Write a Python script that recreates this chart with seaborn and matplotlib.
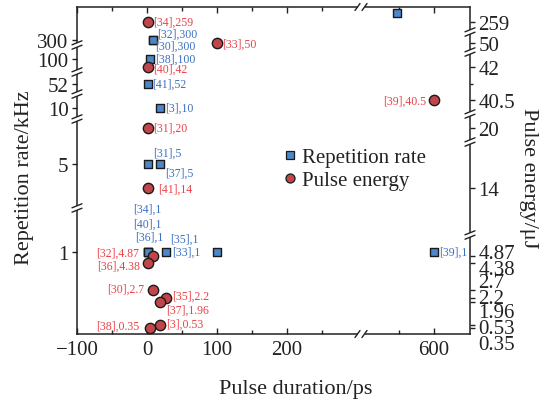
import numpy as np
import matplotlib
matplotlib.use("Agg")
import matplotlib.pyplot as plt
import matplotlib.transforms as mtransforms
from matplotlib.lines import Line2D
import seaborn as sns

sns.set_theme(style="white")
plt.rcParams['font.family'] = ['Liberation Serif', 'DejaVu Serif']
plt.rcParams['axes.unicode_minus'] = True

# ---------------- data ----------------
rate_refs = ["[32]", "[30]", "[38]", "[41]", "[3]", "[31]", "[37]", "[34]", "[40]", "[36]", "[35]", "[33]", "[39]", ""]
rate_duration = [8, 8, 4, 1, 19, 1, 19, 1, 1, 1, 27, 100, 600, 547]
rate_values = [300, 300, 100, 52, 10, 5, 5, 1, 1, 1, 1, 1, 1, 1000]
rate_labels = ["[32],300", "[30],300", "[38],100", "[41],52", "[3],10", "[31],5", "[37],5",
               "[34],1", "[40],1", "[36],1", "[35],1", "[33],1", "[39],1", ""]

energy_duration = [1, 100, 1, 1, 1, 600, 8, 1, 8, 27, 19, 19, 4]
energy_values = [259, 50, 42, 20, 14, 40.5, 4.87, 4.38, 2.7, 2.2, 1.96, 0.53, 0.35]
energy_labels = ["[34],259", "[33],50", "[40],42", "[31],20", "[41],14", "[39],40.5", "[32],4.87",
                 "[36],4.38", "[30],2.7", "[35],2.2", "[37],1.96", "[3],0.53", "[38],0.35"]

x_ticks = [-100, 0, 100, 200, 600]
x_minor = [-50, 50, 150, 250, 550]
left_ticks = [1, 5, 10, 52, 100, 300]
right_ticks = [0.35, 0.53, 1.96, 2.2, 2.7, 4.38, 4.87, 14, 20, 40.5, 42, 50, 259]

# ---------------- layout (pixel geometry of the broken axes) ----------------
W, H = 393.0, 327.0
x_knots = [-100, 300, 500, 650]
x_knot_px = [0, 280, 287, 392]
left_knot_vals = left_ticks + [1000]
left_knot_px = [82, 170, 226, 250, 275, 294, 321]
right_knot_px = [6, 9, 32, 36, 44, 71, 78, 146, 206, 234, 267, 291, 312]
right_label_dy = [-14, -1, -8, 2, 10, -4, 5, 0, 0, 0, 0, 0, 0]   # px, up positive
left_breaks_px = [289, 262, 240, 215, 126]
right_breaks_px = [302, 282, 220, 192, 99]
x_break_px = 284

rate_off = [(4.5, 6, 'left'), (2.5, -6, 'left'), (5, 0, 'left'), (4.5, 0, 'left'), (5, 0, 'left'),
            (5, 11, 'left'), (5, -9, 'left'), (0, 43, 'center'), (0, 28, 'center'), (2, 15, 'center'),
            (4, 13, 'left'), (-17, 0, 'right'), (5, 0, 'left'), (0, 0, 'left')]
energy_off = [(5, 0, 'left'), (5, -1, 'left'), (5, -2, 'left'), (5, 0, 'left'), (10, -1, 'left'),
              (-8, -1, 'right'), (-13, 3, 'right'), (-8, -3, 'right'), (-8, 1, 'right'),
              (6, 2, 'left'), (6, -8, 'left'), (6, 1, 'left'), (-10, 2, 'right')]

SQ = "#4b87c9"
CI = "#c1454b"
EDGE = "#1a1a1a"
RED_T = "#ea4048"
BLUE_T = "#3b6fbf"
INK = "#222222"


def piecewise(vals, pix):
    vals = np.asarray(vals, float)
    pix = np.asarray(pix, float)

    def _make(a, b):
        s0 = (b[1] - b[0]) / (a[1] - a[0])
        s1 = (b[-1] - b[-2]) / (a[-1] - a[-2])

        def f(v):
            v = np.asarray(v, float)
            out = np.interp(v, a, b)
            out = np.where(v < a[0], b[0] + (v - a[0]) * s0, out)
            out = np.where(v > a[-1], b[-1] + (v - a[-1]) * s1, out)
            return out
        return f
    return _make(vals, pix), _make(pix, vals)


def fmt(t):
    s = f"{t:g}"
    return s.replace("-", "\u2212")


fx, ix = piecewise(x_knots, x_knot_px)
fl, il = piecewise(left_knot_vals, left_knot_px)
fr, ir = piecewise(right_ticks, right_knot_px)

fig = plt.figure(figsize=(5.44, 4.02), dpi=100)
ax = fig.add_axes([77 / 544, (402 - 335) / 402, W / 544, H / 402])
ax2 = ax.twinx()

ax.set_xscale('function', functions=(fx, ix))
ax.set_yscale('function', functions=(fl, il))
ax2.set_yscale('function', functions=(fr, ir))

# data
sns.scatterplot(x=rate_duration, y=rate_values, ax=ax, marker='s', s=34, color=SQ,
                edgecolor=EDGE, linewidth=1.0, legend=False, zorder=3, clip_on=False)
sns.scatterplot(x=energy_duration, y=energy_values, ax=ax2, marker='o', s=55, color=CI,
                edgecolor=EDGE, linewidth=1.0, legend=False, zorder=3, clip_on=False)

ax.set_xlim(float(ix(0)), float(ix(W)))
ax.set_ylim(float(il(0)), float(il(H)))
ax2.set_ylim(float(ir(0)), float(ir(H)))

# annotations
for xv, yv, lab, (dx, dy, ha) in zip(rate_duration, rate_values, rate_labels, rate_off):
    if lab:
        ax.annotate(lab, (xv, yv), xytext=(dx, dy), textcoords='offset pixels', ha=ha, va='center',
                    fontsize=8.5, color=BLUE_T, zorder=6)
for xv, yv, lab, (dx, dy, ha) in zip(energy_duration, energy_values, energy_labels, energy_off):
    ax2.annotate(lab, (xv, yv), xytext=(dx, dy), textcoords='offset pixels', ha=ha, va='center',
                 fontsize=8.5, color=RED_T, zorder=6)

# ticks
FS = 15
ax.set_xticks(x_ticks)
ax.set_xticklabels([fmt(t) for t in x_ticks])
ax.set_xticks(x_minor, minor=True)
ax.set_yticks(left_ticks)
ax.set_yticklabels([fmt(t) for t in left_ticks])
ax.yaxis.set_minor_locator(matplotlib.ticker.NullLocator())
ax.tick_params(axis='x', which='both', direction='in', top=True, bottom=True, labelsize=FS,
               colors=INK, width=1.0, pad=4)
ax.tick_params(axis='x', which='major', length=4.5)
ax.tick_params(axis='x', which='minor', length=3)
ax.tick_params(axis='y', which='major', direction='out', left=True, right=False, length=3.5,
               width=1.0, labelsize=FS, colors=INK, pad=2.5)

ax2.set_yticks(right_ticks)
ax2.set_yticklabels([fmt(t) for t in right_ticks])
ax2.set_yticks([41.25], minor=True)
ax2.tick_params(axis='y', which='both', direction='out', right=True, left=False, length=3.5,
                width=1.0, labelsize=FS, colors=INK, pad=2.5)
ax2.tick_params(axis='y', which='minor', length=2.5)

for lab, dy in zip(ax2.yaxis.get_majorticklabels(), right_label_dy):
    lab.set_transform(lab.get_transform() +
                      mtransforms.ScaledTranslation(0, dy / 100.0, fig.dpi_scale_trans))

# spines
for s in ax.spines.values():
    s.set_color(INK)
    s.set_linewidth(1.1)
ax.spines['right'].set_visible(False)
for k in ['left', 'top', 'bottom']:
    ax2.spines[k].set_visible(False)
ax2.spines['right'].set_color(INK)
ax2.spines['right'].set_linewidth(1.1)

# labels
ax.set_xlabel("Pulse duration/ps", fontsize=16, color=INK)
ax.xaxis.set_label_coords(0.557, -0.138)
ax.set_ylabel("Repetition rate/kHz", fontsize=16, color=INK)
ax.yaxis.set_label_coords(-0.11, 0.48)
ax2.set_ylabel("Pulse energy/\u03bcJ", fontsize=16, color=INK, rotation=270, va='bottom')
ax2.yaxis.set_label_coords(1.125, 0.48)


# axis breaks
def ybreak(a, xside, h):
    kw = dict(transform=a.transAxes, clip_on=False, color=INK, lw=1.0, zorder=7)
    a.plot([xside, xside], [(h - 2.2) / H, (h + 2.2) / H], transform=a.transAxes, clip_on=False,
           color='white', lw=3, zorder=6, solid_capstyle='butt')
    for d in (-2.2, 2.2):
        a.plot([xside - 5 / W, xside + 5 / W], [(h + d - 2) / H, (h + d + 2) / H], **kw)


def xbreak(a, px, yside):
    kw = dict(transform=a.transAxes, clip_on=False, color=INK, lw=1.0, zorder=7)
    a.plot([(px - 3.5) / W, (px + 3.5) / W], [yside, yside], transform=a.transAxes, clip_on=False,
           color='white', lw=3, zorder=6, solid_capstyle='butt')
    for d in (-3.5, 3.5):
        a.plot([(px + d - 2.5) / W, (px + d + 2.5) / W], [yside - 3.5 / H, yside + 3.5 / H], **kw)


for h in left_breaks_px:
    ybreak(ax, 0.0, h)
for h in right_breaks_px:
    ybreak(ax2, 1.0, h)
xbreak(ax2, x_break_px, 0.0)
xbreak(ax2, x_break_px, 1.0)

# legend
handles = [Line2D([], [], marker='s', ls='none', markersize=5.5, markerfacecolor=SQ,
                  markeredgecolor=EDGE, markeredgewidth=0.9),
           Line2D([], [], marker='o', ls='none', markersize=6.5, markerfacecolor=CI,
                  markeredgecolor=EDGE, markeredgewidth=0.9)]
leg = ax2.legend(handles, ["Repetition rate", "Pulse energy"], loc='center left',
                 bbox_to_anchor=((283 - 77) / W, (335 - 170) / H), frameon=False, fontsize=15,
                 handlelength=0.7, handletextpad=0.2, labelspacing=0.15, borderpad=0, borderaxespad=0)
for t in leg.get_texts():
    t.set_color(INK)

fig.savefig("out.png", dpi=100)
